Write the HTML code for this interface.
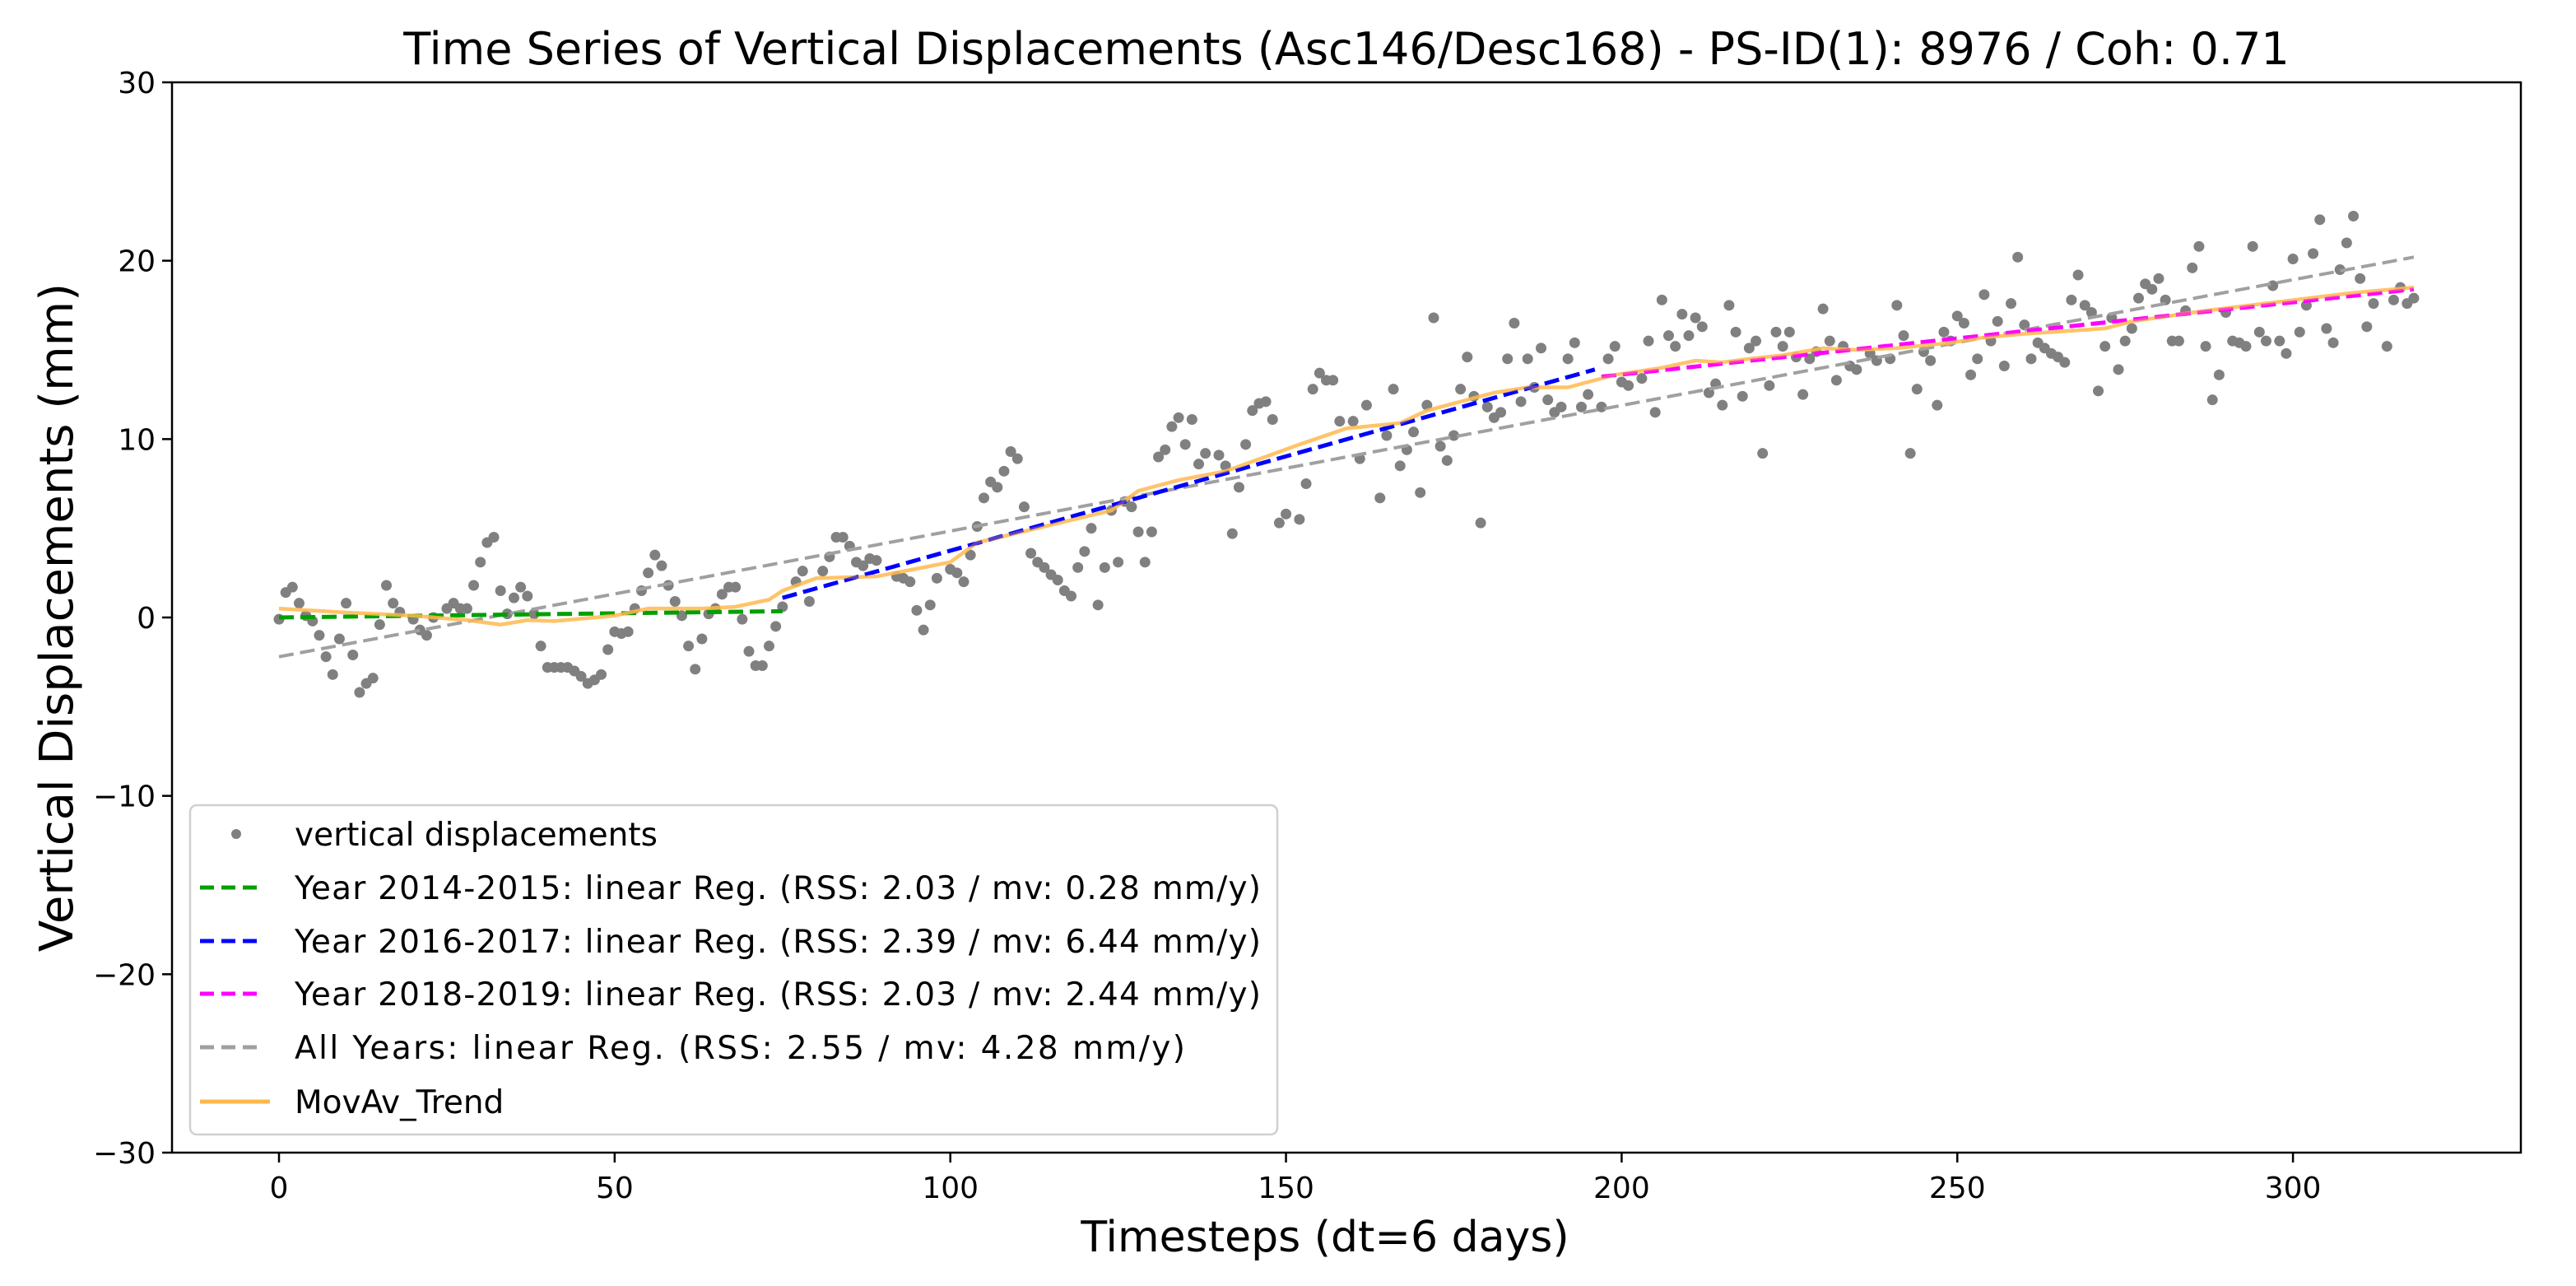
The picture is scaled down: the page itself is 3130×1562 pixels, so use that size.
<!DOCTYPE html>
<html><head><meta charset="utf-8">
<style>
html,body{margin:0;padding:0;background:#fff;}
svg{display:block;font-family:"DejaVu Sans","Liberation Sans",sans-serif;}
</style></head>
<body>
<svg id="chart" width="3130" height="1562" viewBox="0 0 3130 1562" xmlns="http://www.w3.org/2000/svg">
<rect x="0" y="0" width="3130" height="1562" fill="#fff"/>
<text x="1636" y="78" font-size="54" text-anchor="middle" fill="#000">Time Series of Vertical Displacements (Asc146/Desc168) - PS-ID(1): 8976 / Coh: 0.71</text>
<g id="marks"></g>
<g id="axes"></g>
<g id="legend"></g>
<text x="1610" y="1520" font-size="52" text-anchor="middle" fill="#000">Timesteps (dt=6 days)</text>
<text x="0" y="0" font-size="56" text-anchor="middle" fill="#000" transform="translate(88,750) rotate(-90)">Vertical Displacements (mm)</text>
</svg>
<script>
// ---- data ----
const timesteps = [0,1,2,3,4,5,6,7,8,9,10,11,12,13,14,15,16,17,18,20,21,22,23,25,26,27,28,29,30,31,32,33,34,35,36,37,38,39,40,41,42,43,44,45,46,47,48,49,50,51,52,53,54,55,56,57,58,59,60,61,62,63,64,65,66,67,68,69,70,71,72,73,74,75,77,78,79,81,82,83,
84,85,86,87,88,89,92,93,94,95,96,97,98,100,101,102,103,104,105,106,107,108,109,110,111,112,113,114,115,116,117,118,119,120,121,122,123,124,125,126,127,128,129,130,131,132,133,134,135,136,137,138,140,141,142,143,144,145,146,147,148,149,150,152,153,154,155,156,157,158,160,161,162,164,
165,166,167,168,169,170,171,172,173,174,175,176,177,178,179,180,181,182,183,184,185,186,187,188,189,190,191,192,193,194,195,197,198,199,200,201,203,204,205,206,207,208,209,210,211,212,213,214,215,216,217,218,219,220,221,222,223,224,225,226,227,228,229,230,231,232,233,234,235,237,238,240,241,242,243,244,245,246,247,248,249,
250,251,252,253,254,255,256,257,258,259,260,261,262,263,264,265,266,267,268,269,270,271,272,273,274,275,276,277,278,279,280,281,282,283,284,285,286,287,288,289,290,291,292,293,294,295,296,297,298,299,300,301,302,303,304,305,306,307,308,309,310,311,312,314,315,316,317,318];
const displacements = [-0.1,1.4,1.7,0.8,0.1,-0.2,-1,-2.2,-3.2,-1.2,0.8,-2.1,-4.2,-3.7,-3.4,-0.4,1.8,0.8,0.3,-0.1,-0.7,-1,0,0.5,0.8,0.5,0.5,1.8,3.1,4.2,4.5,1.5,0.2,1.1,1.7,1.2,0.2,-1.6,-2.8,-2.8,-2.8,-2.8,-3,-3.3,-3.7,-3.5,-3.2,-1.8,-0.8,-0.9,-0.8,0.5,1.5,2.5,3.5,2.9,1.8,0.9,0.1,-1.6,-2.9,-1.2,0.2,0.5,1.3,1.7,1.7,-0.1,-1.9,-2.7,-2.7,-1.6,-0.5,0.6,2,2.6,0.9,2.6,3.4,4.5,
4.5,4,3.1,2.9,3.3,3.2,2.3,2.2,2,0.4,-0.7,0.7,2.2,2.7,2.5,2,3.5,5.1,6.7,7.6,7.3,8.2,9.3,8.9,6.2,3.6,3.1,2.8,2.4,2.1,1.5,1.2,2.8,3.7,5,0.7,2.8,6,3.1,6.5,6.2,4.8,3.1,4.8,9,9.4,10.7,11.2,9.7,11.1,8.6,9.2,9.1,8.5,4.7,7.3,9.7,11.6,12,12.1,11.1,5.3,5.8,5.5,7.5,12.8,13.7,13.3,13.3,11,11,8.9,11.9,6.7,
10.2,12.8,8.5,9.4,10.4,7,11.9,16.8,9.6,8.8,10.2,12.8,14.6,12.4,5.3,11.8,11.2,11.5,14.5,16.5,12.1,14.5,12.9,15.1,12.2,11.5,11.8,14.5,15.4,11.8,12.5,11.8,14.5,15.2,13.2,13,13.4,15.5,11.5,17.8,15.8,15.2,17,15.8,16.8,16.3,12.6,13.1,11.9,17.5,16,12.4,15.1,15.5,9.2,13,16,15.2,16,14.6,12.5,14.5,14.9,17.3,15.5,13.3,15.2,14.1,13.9,14.8,14.4,14.5,17.5,15.8,9.2,12.8,14.9,14.4,11.9,16,15.5,
16.9,16.5,13.6,14.5,18.1,15.5,16.6,14.1,17.6,20.2,16.4,14.5,15.4,15.1,14.8,14.6,14.3,17.8,19.2,17.5,17.1,12.7,15.2,16.8,13.9,15.5,16.2,17.9,18.7,18.4,19,17.8,15.5,15.5,17.2,19.6,20.8,15.2,12.2,13.6,17.1,15.5,15.4,15.2,20.8,16,15.5,18.6,15.5,14.8,20.1,16,17.5,20.4,22.3,16.2,15.4,19.5,21,22.5,19,16.3,17.6,15.2,17.8,18.5,17.6,17.9];
const movavX = [0,9,20,28,33,37,41,50,55,63,68,73,75,80,89,100,104,114,124,128,134,141,152,159,167,171,181,186,192,195,199,206,211,215,219,224,230,235,241,249,254,260,272,276,287,298,309,318];
const movavY = [0.5,0.3,0.1,-0.15,-0.4,-0.15,-0.2,0.1,0.5,0.5,0.6,1.0,1.5,2.2,2.3,3.1,4.2,5.1,6.0,7.1,7.7,8.2,9.7,10.6,10.9,11.6,12.6,12.9,12.9,13.2,13.6,14.0,14.4,14.3,14.5,14.7,15.1,15.0,15.1,15.4,15.7,15.9,16.2,16.6,17.2,17.7,18.2,18.5];
const regNames = ["reg-2014-2015","reg-2016-2017","reg-2018-2019","reg-all-years"];
const regX0 = [0,75,197,0];
const regX1 = [75,196,318,318];
const regY0 = [0.0,1.1,13.5,-2.2];
const regY1 = [0.35,13.9,18.4,20.2];
const regColors = ["#00a000","#0000ff","#ff00ff","#a0a0a0"];
const xTicks = [0,50,100,150,200,250,300];
const yTicks = [-30,-20,-10,0,10,20,30];
const legendLabels = ["vertical displacements","Year 2014-2015: linear Reg. (RSS: 2.03 / mv: 0.28 mm/y)","Year 2016-2017: linear Reg. (RSS: 2.39 / mv: 6.44 mm/y)","Year 2018-2019: linear Reg. (RSS: 2.03 / mv: 2.44 mm/y)","All Years: linear Reg. (RSS: 2.55 / mv: 4.28 mm/y)","MovAv_Trend"];

// ---- axes ----
const L=209,R=3063,T=100,B=1400;
const X0=339, XS=8.157;
function sx(v){return X0+v*XS;}
function sy(v){return T+(30-v)*(B-T)/60;}
const NS="http://www.w3.org/2000/svg";
function mk(tag,attrs,parent){const e=document.createElementNS(NS,tag);for(const k in attrs)e.setAttribute(k,attrs[k]);parent.appendChild(e);return e;}
const marks=document.getElementById('marks');
const axes=document.getElementById('axes');

timesteps.forEach((t,i)=>{
  const c=mk('circle',{cx:sx(t),cy:sy(displacements[i]),r:6.5,fill:'#808080'},marks);
  
  
});
[3,0,1,2].forEach(k=>{
  const l=mk('line',{x1:sx(regX0[k]),y1:sy(regY0[k]),x2:sx(regX1[k]),y2:sy(regY1[k]),stroke:regColors[k],'stroke-width':k===3?4:5,'stroke-dasharray':'18,8'},marks);
  
  
});
let d='';
movavX.forEach((x,i)=>{d+=(i?'L':'M')+sx(x)+','+sy(movavY[i]);});
const mv=mk('path',{d:d,fill:'none',stroke:'#ffb84d','stroke-width':4.5,'stroke-opacity':0.85},marks);


[1,2].forEach(k=>{
  const l=mk('line',{x1:sx(regX0[k]),y1:sy(regY0[k]),x2:sx(regX1[k]),y2:sy(regY1[k]),stroke:regColors[k],'stroke-width':4,'stroke-dasharray':'18,8','stroke-opacity':0.6},marks);
  
  
});

const fr=mk('rect',{x:L,y:T,width:R-L,height:B-T,fill:'none',stroke:'#000','stroke-width':2.5},axes);


xTicks.forEach(v=>{
  const t=mk('line',{x1:sx(v),y1:B,x2:sx(v),y2:B+12,stroke:'#000','stroke-width':2.5},axes);
  
  
  const tx=mk('text',{x:sx(v),y:B+55,'font-size':36,'text-anchor':'middle',fill:'#000'},axes);
  tx.textContent=v;
  
  
});
yTicks.forEach(v=>{
  const t=mk('line',{x1:L-12,y1:sy(v),x2:L,y2:sy(v),stroke:'#000','stroke-width':2.5},axes);
  
  
  const tx=mk('text',{x:L-20,y:sy(v)+13,'font-size':36,'text-anchor':'end',fill:'#000'},axes);
  tx.textContent=(v<0?'\u2212'+(-v):v);
  
  
});

const lg=document.getElementById('legend');
const box=mk('rect',{x:231,y:978,width:1321,height:400,rx:8,fill:'#fff','fill-opacity':0.85,stroke:'#d0d0d0','stroke-width':2.5},lg);


const rowY=[1013,1078,1143,1207,1272,1338];
const handleColors=['#808080',regColors[0],regColors[1],regColors[2],regColors[3],'#ffb84d'];
const textLens=[0,1174,1174,1174,1082,0];
legendLabels.forEach((lab,i)=>{
  let h;
  if(i===0){h=mk('circle',{cx:287,cy:rowY[i],r:6,fill:'#808080'},lg);}
  else if(i===5){h=mk('line',{x1:243,y1:rowY[i],x2:328,y2:rowY[i],stroke:'#ffb84d','stroke-width':5},lg);}
  else{h=mk('line',{x1:243,y1:rowY[i],x2:320,y2:rowY[i],stroke:handleColors[i],'stroke-width':5,'stroke-dasharray':'17,9'},lg);}
  
  
  const attrs={x:358,y:rowY[i]+14,'font-size':39,fill:'#000'};
  if(textLens[i])attrs.textLength=textLens[i];
  const t=mk('text',attrs,lg);
  t.textContent=lab;
  
  
});
</script>
</body></html>
